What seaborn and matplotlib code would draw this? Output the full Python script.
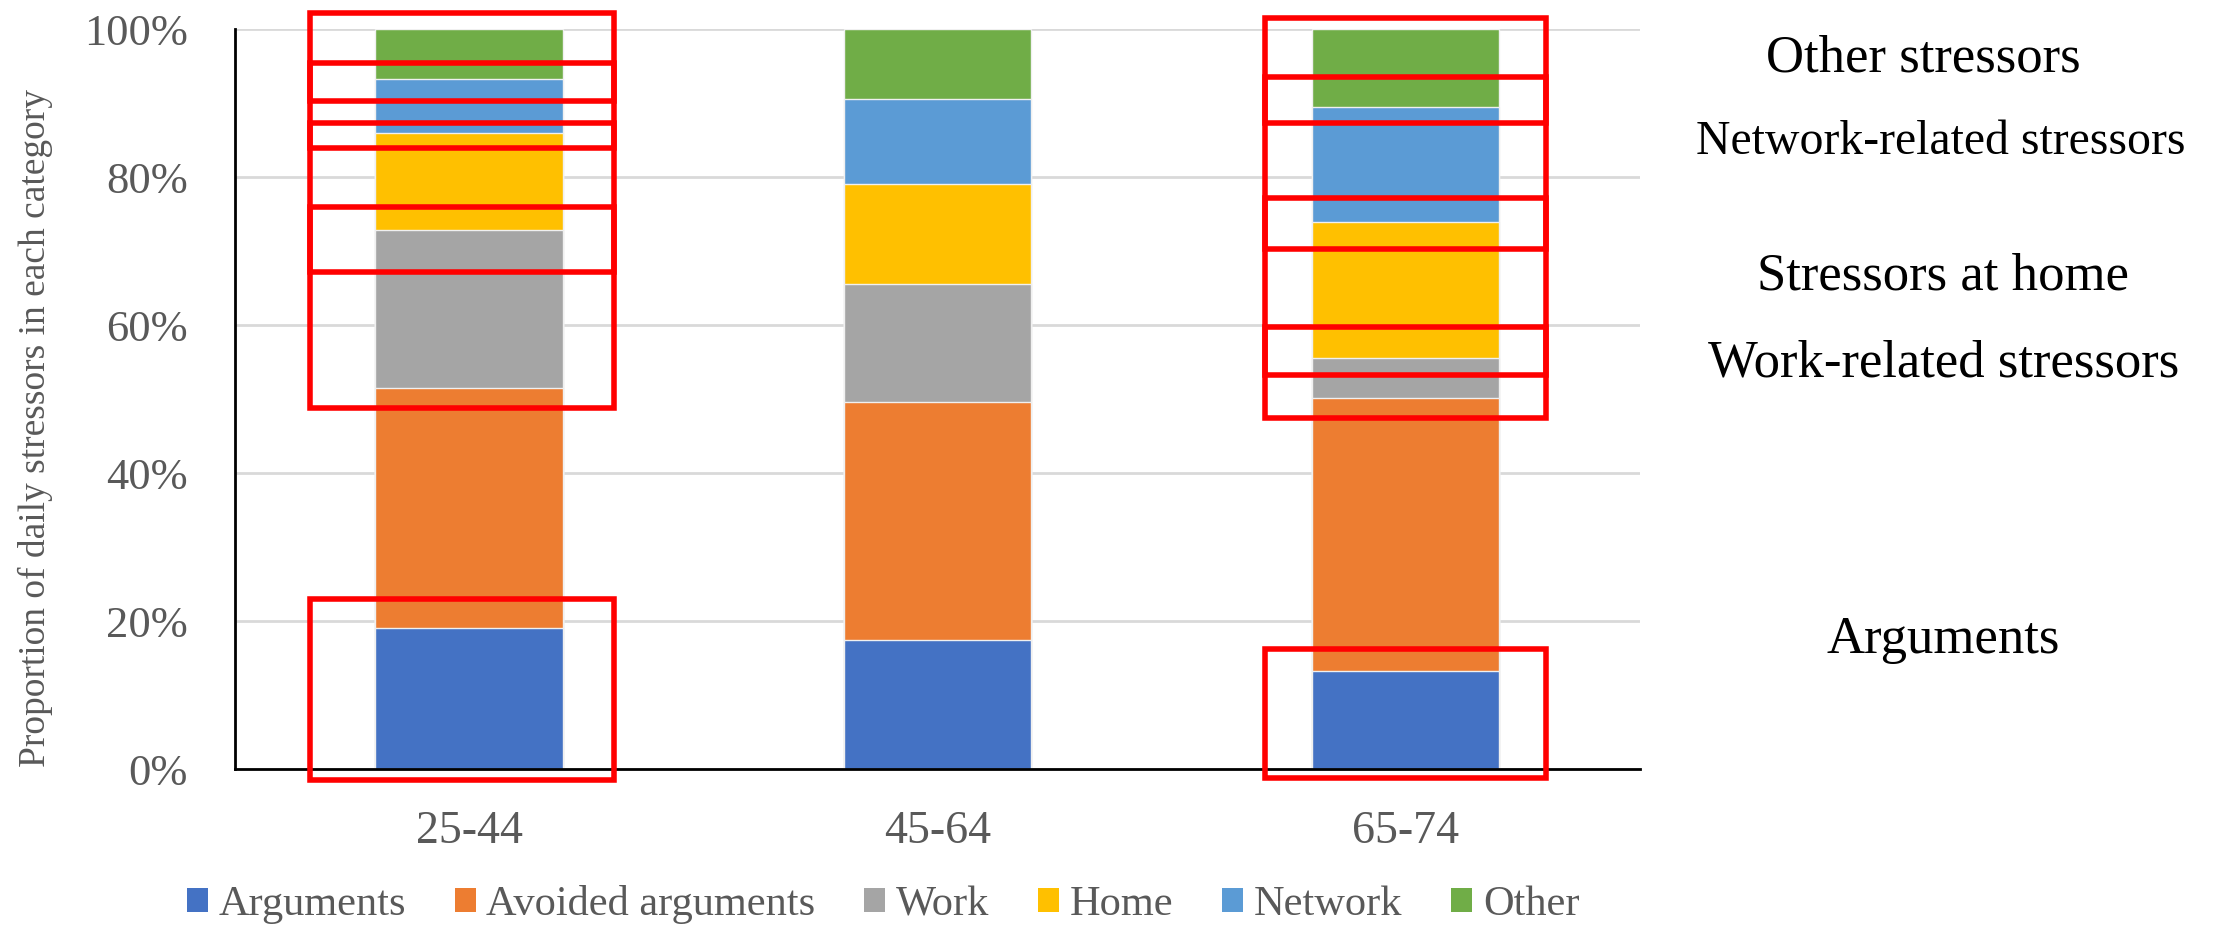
import numpy as np
import pandas as pd
import matplotlib
matplotlib.use('Agg')
import matplotlib.pyplot as plt
from matplotlib.patches import Rectangle, Patch
import seaborn as sns

ages = ['25-44', '45-64', '65-74']
stressors = ['Arguments', 'Avoided arguments', 'Work', 'Home', 'Network', 'Other']
arguments = [19.1, 17.4, 13.2]
avoided = [32.4, 32.2, 36.9]
work = [21.4, 16.0, 5.5]
home = [13.0, 13.5, 18.3]
network = [7.4, 11.5, 15.6]
other = [6.7, 9.4, 10.5]
colors = ['#4472C4', '#ED7D31', '#A5A5A5', '#FFC000', '#5B9BD5', '#70AD47']
y_ticks = [0, 20, 40, 60, 80, 100]

side_labels = ['Other stressors', 'Network-related stressors', 'Stressors at home',
               'Work-related stressors', 'Arguments']

# highlight boxes: (bar index, left offset, right offset, bottom %, top %)
boxes = [
    (0, -0.34, 0.31, 90.3, 102.2),
    (0, -0.34, 0.31, 83.9, 95.4),
    (0, -0.34, 0.31, 67.2, 87.3),
    (0, -0.34, 0.31, 48.8, 75.9),
    (0, -0.34, 0.31, -1.5, 23.0),
    (2, -0.30, 0.30, 87.3, 101.5),
    (2, -0.30, 0.30, 70.3, 93.5),
    (2, -0.30, 0.30, 53.2, 77.2),
    (2, -0.30, 0.30, 47.4, 59.7),
    (2, -0.30, 0.30, -1.2, 16.2),
]

sns.set_theme(style='white')
plt.rcParams['font.family'] = ['Liberation Serif', 'DejaVu Serif']

df = pd.DataFrame({'age': ages, 'Arguments': arguments, 'Avoided arguments': avoided,
                   'Work': work, 'Home': home, 'Network': network, 'Other': other})
cum = df[stressors].cumsum(axis=1)

fig = plt.figure(figsize=(22.21, 9.27), dpi=100)
ax = fig.add_axes([0.1058, 0.1704, 0.6326, 0.7983])

# stack by overdrawing cumulative totals, tallest first
for name, color in reversed(list(zip(stressors, colors))):
    sns.barplot(x=df['age'], y=cum[name], color=color, width=0.4, saturation=1,
                edgecolor='#f0f0f0', linewidth=1, ax=ax, zorder=2)

ax.set_xlim(-0.5, 2.5)
ax.set_ylim(0, 100)
ax.set_yticks(y_ticks)
ax.set_yticklabels([f'{v}%' for v in y_ticks])
ax.set_xlabel('')
ax.set_ylabel('')
ax.yaxis.grid(True, color='#d9d9d9', linewidth=2, zorder=0)
ax.set_axisbelow(True)
for s in ['top', 'right']:
    ax.spines[s].set_visible(False)
for s in ['left', 'bottom']:
    ax.spines[s].set_color('black')
    ax.spines[s].set_linewidth(2)
ax.tick_params(axis='y', length=0, pad=34, labelsize=32, labelcolor='#595959')
ax.tick_params(axis='x', length=0, pad=30, labelsize=33, labelcolor='#595959')

for i, x0, x1, y0, y1 in boxes:
    ax.add_patch(Rectangle((i + x0, y0), x1 - x0, y1 - y0, fill=False,
                           edgecolor='#ff0000', linewidth=4, clip_on=False, zorder=5))

fig.text(35 / 2221, 1 - 428 / 927, 'Proportion of daily stressors in each category',
         rotation=90, ha='center', va='center', fontsize=27, color='#595959')

side_pos = [(0.866, 0.937, 38), (0.874, 0.847, 34.4), (0.875, 0.702, 38),
            (0.875, 0.608, 38), (0.875, 0.310, 38)]
for txt, (x, y, fs) in zip(side_labels, side_pos):
    fig.text(x, y, txt, ha='center', va='center', fontsize=fs, color='black')

handles = [Patch(facecolor=c, edgecolor='none', label=n) for n, c in zip(stressors, colors)]
fig.legend(handles=handles, loc='center', bbox_to_anchor=(0.3976, 0.024), ncol=6,
           frameon=False, fontsize=30.5, labelcolor='#595959', handlelength=0.5,
           handleheight=0.5, handletextpad=0.25, columnspacing=1.15)

fig.savefig('out.png', dpi=100)
